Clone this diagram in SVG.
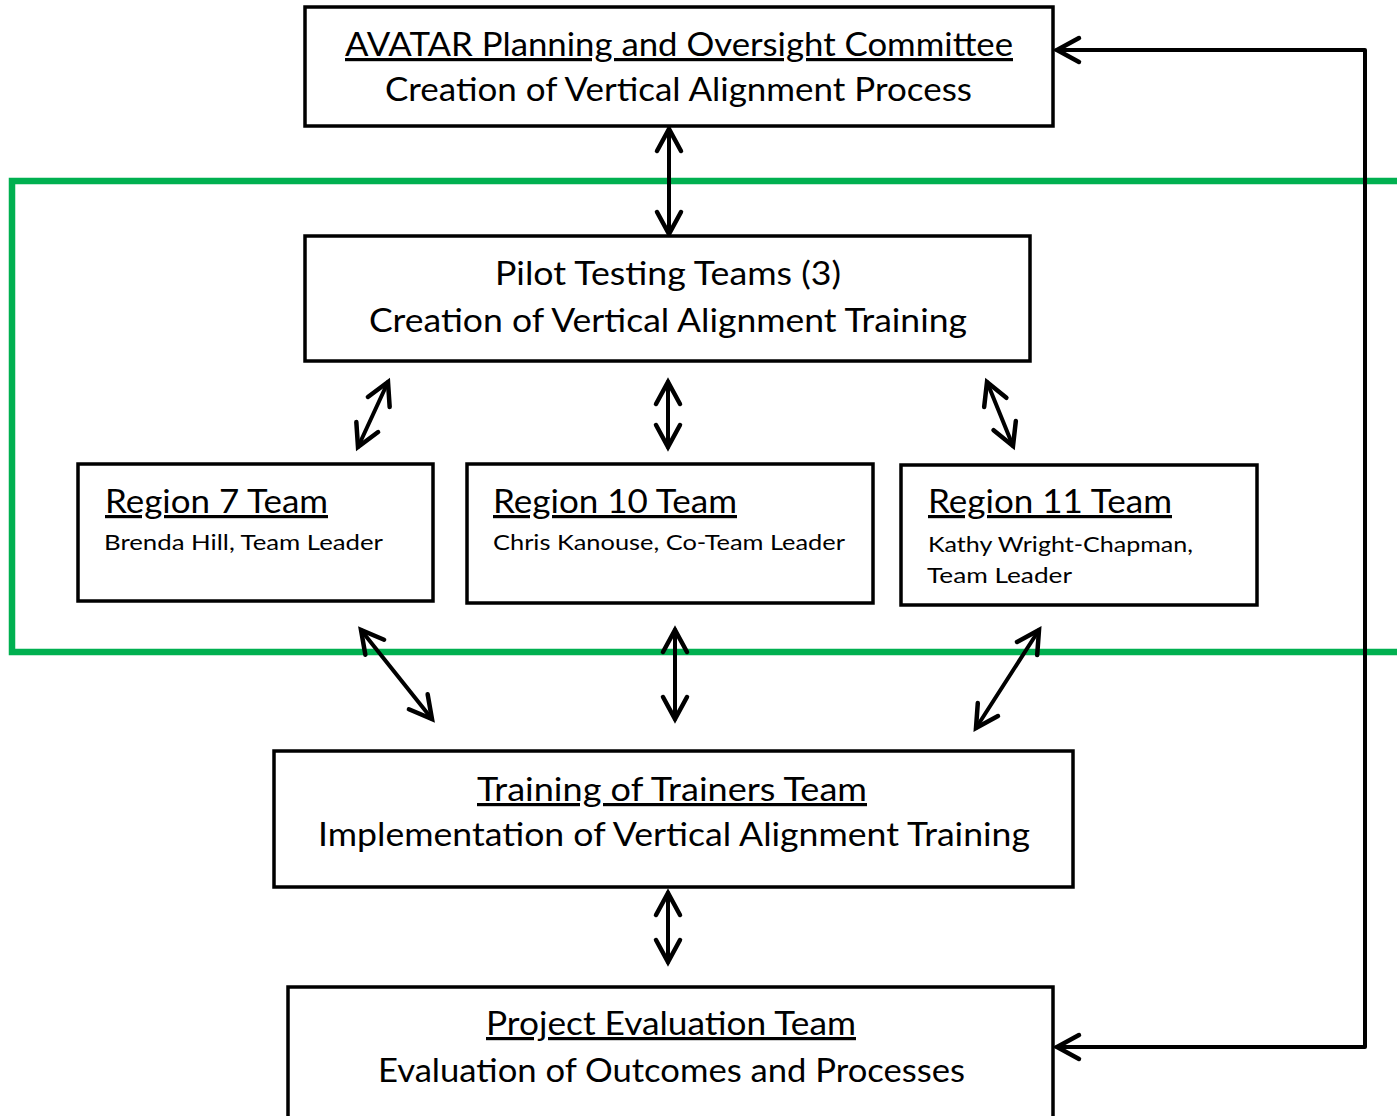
<svg xmlns="http://www.w3.org/2000/svg" width="1397" height="1116" viewBox="0 0 1397 1116">
<style>
.box{fill:#fff;stroke:#000;stroke-width:3.5}
.t{font-family:Lato,"Open Sans","Liberation Sans",sans-serif;fill:#000}
.big{font-size:32px}
.small{font-size:21px}
.u{text-decoration:underline;text-decoration-skip-ink:none}
.c{fill:none;stroke:#000;stroke-width:4;stroke-linecap:round;stroke-linejoin:round}
.green{fill:none;stroke:#00B050;stroke-width:6.5}
</style>
<defs>
<marker id="ah" markerUnits="userSpaceOnUse" markerWidth="34" markerHeight="34" viewBox="-28 -17 34 34" refX="0" refY="0" orient="auto-start-reverse">
<path d="M-22,-12 L0,0 L-22,12" fill="none" stroke="#000" stroke-width="4.5" stroke-linecap="round" stroke-linejoin="miter"/>
</marker>
</defs>
<rect width="1397" height="1116" fill="#fff"/>
<path class="green" d="M1400,181 H12 V652 H1400"/>
<g id="connectors">
<line class="c" x1="669" y1="129" x2="669" y2="234" marker-start="url(#ah)" marker-end="url(#ah)"/>
<line class="c" x1="388" y1="382" x2="358" y2="447" marker-start="url(#ah)" marker-end="url(#ah)"/>
<line class="c" x1="668" y1="382" x2="668" y2="447" marker-start="url(#ah)" marker-end="url(#ah)"/>
<line class="c" x1="987" y1="382" x2="1013" y2="446" marker-start="url(#ah)" marker-end="url(#ah)"/>
<line class="c" x1="361" y1="630" x2="432" y2="719" marker-start="url(#ah)" marker-end="url(#ah)"/>
<line class="c" x1="675" y1="630" x2="675" y2="719" marker-start="url(#ah)" marker-end="url(#ah)"/>
<line class="c" x1="1039" y1="630" x2="976" y2="728" marker-start="url(#ah)" marker-end="url(#ah)"/>
<line class="c" x1="668" y1="893" x2="668" y2="962" marker-start="url(#ah)" marker-end="url(#ah)"/>
<path class="c" d="M1057,50 H1365 V1047 H1057" marker-start="url(#ah)" marker-end="url(#ah)"/>
</g>
<g id="avatar">
<rect class="box" x="305" y="7" width="748" height="119"/>
<text class="t big u" x="345" y="56" textLength="668" lengthAdjust="spacingAndGlyphs">AVATAR Planning and Oversight Committee</text>
<text class="t big" x="385" y="101" textLength="587" lengthAdjust="spacingAndGlyphs">Creation of Vertical Alignment Process</text>
</g>
<g id="pilot">
<rect class="box" x="305" y="236" width="725" height="125"/>
<text class="t big" x="495" y="285" textLength="346" lengthAdjust="spacingAndGlyphs">Pilot Testing Teams (3)</text>
<text class="t big" x="369" y="332" textLength="598" lengthAdjust="spacingAndGlyphs">Creation of Vertical Alignment Training</text>
</g>
<g id="region7">
<rect class="box" x="78" y="464" width="355" height="137"/>
<text class="t big u" x="105" y="513" textLength="223" lengthAdjust="spacingAndGlyphs">Region 7 Team</text>
<text class="t small" x="104" y="550" textLength="279" lengthAdjust="spacingAndGlyphs">Brenda Hill, Team Leader</text>
</g>
<g id="region10">
<rect class="box" x="467" y="464" width="406" height="139"/>
<text class="t big u" x="493" y="513" textLength="244" lengthAdjust="spacingAndGlyphs">Region 10 Team</text>
<text class="t small" x="493" y="550" textLength="352" lengthAdjust="spacingAndGlyphs">Chris Kanouse, Co-Team Leader</text>
</g>
<g id="region11">
<rect class="box" x="901" y="465" width="356" height="140"/>
<text class="t big u" x="928" y="513" textLength="244" lengthAdjust="spacingAndGlyphs">Region 11 Team</text>
<text class="t small" x="928" y="552" textLength="265" lengthAdjust="spacingAndGlyphs">Kathy Wright-Chapman,</text>
<text class="t small" x="927" y="583" textLength="145" lengthAdjust="spacingAndGlyphs">Team Leader</text>
</g>
<g id="training">
<rect class="box" x="274" y="751" width="799" height="136"/>
<text class="t big u" x="477" y="801" textLength="390" lengthAdjust="spacingAndGlyphs">Training of Trainers Team</text>
<text class="t big" x="318" y="846" textLength="712" lengthAdjust="spacingAndGlyphs">Implementation of Vertical Alignment Training</text>
</g>
<g id="evaluation">
<rect class="box" x="288" y="987" width="765" height="140"/>
<text class="t big u" x="486" y="1035" textLength="370" lengthAdjust="spacingAndGlyphs">Project Evaluation Team</text>
<text class="t big" x="378" y="1082" textLength="587" lengthAdjust="spacingAndGlyphs">Evaluation of Outcomes and Processes</text>
</g>
</svg>
